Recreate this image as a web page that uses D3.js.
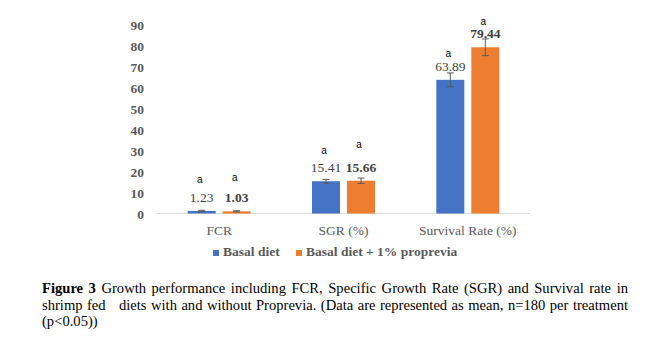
<!DOCTYPE html>
<html>
<head>
<meta charset="utf-8">
<script src="https://cdn.jsdelivr.net/npm/d3@7"></script>
<style>
  body { margin: 0; background: #fff; }
  .chart { position: relative; width: 656px; height: 347px; }
  .caption {
    position: absolute; left: 42px; top: 280px; width: 586px;
    font-family: "Liberation Serif", "Times New Roman", serif;
    font-size: 14.6px; line-height: 16.7px; color: #000;
  }
  .caption .line { white-space: pre; }
  .caption .full { text-align: justify; text-align-last: justify; }
</style>
</head>
<body>
<div class="chart"></div>
<script>
// Growth performance values
var categories = ["FCR", "SGR (%)", "Survival Rate (%)"];
var seriesNames = ["Basal diet", "Basal diet + 1% proprevia"];
var basalDiet = [1.23, 15.41, 63.89];
var proprevia = [1.03, 15.66, 79.44];
var basalErr = [0.3, 0.9, 3.3];
var propreviaErr = [0.3, 1.3, 4.0];
var letters = [["a", "a"], ["a", "a"], ["a", "a"]];
var yTicks = [0, 10, 20, 30, 40, 50, 60, 70, 80, 90];

var colors = ["#4472c4", "#ed7d31"];
// how far each significance letter sits above its value label
var letterLift = [[19, 21], [18, 24], [14, 13]];

var svgWidth = 656;
var svgHeight = 347;

var svg = d3.select(".chart")
  .append("svg")
  .attr("width", svgWidth)
  .attr("height", svgHeight)
  .style("position", "absolute")
  .style("left", 0)
  .style("top", 0);

var data = categories.map(function(c, i) {
  return [
    { cat: c, s: 0, value: basalDiet[i], err: basalErr[i], letter: letters[i][0], lift: letterLift[i][0] },
    { cat: c, s: 1, value: proprevia[i], err: propreviaErr[i], letter: letters[i][1], lift: letterLift[i][1] }
  ];
});

var x0 = d3.scaleBand().domain(categories).range([157, 530]);
var x1 = d3.scaleBand().domain([0, 1]).range([0, 63]).paddingInner(0.2);
var groupOffset = (x0.bandwidth() - 63) / 2;
var y = d3.scaleLinear().domain([0, 90]).range([213.5, 25.2]);

// y axis labels only, no line
var leftAxis = d3.axisLeft(y).tickValues(yTicks).tickSize(0).tickPadding(0);
var yAxis = svg.append("g")
  .attr("transform", "translate(144,0)")
  .call(leftAxis);
yAxis.select(".domain").remove();
yAxis.selectAll("text")
  .attr("font-family", "Liberation Serif, Times New Roman, serif")
  .attr("font-weight", "bold")
  .attr("font-size", "13.5px")
  .attr("fill", "#595959")
  .attr("dy", "0.35em");

// baseline
svg.append("line")
  .attr("x1", 157).attr("x2", 530)
  .attr("y1", y(0)).attr("y2", y(0))
  .attr("stroke", "#d9d9d9")
  .attr("stroke-width", 1);

var groups = svg.selectAll(".group")
  .data(data)
  .enter()
  .append("g")
  .attr("class", "group")
  .attr("transform", function(d, i) {
    return "translate(" + (x0(categories[i]) + groupOffset) + ",0)";
  });

var bars = groups.selectAll(".bar")
  .data(function(d) { return d; })
  .enter()
  .append("g")
  .attr("class", "bar");

bars.append("rect")
  .attr("x", function(d) { return x1(d.s); })
  .attr("width", x1.bandwidth())
  .attr("y", function(d) { return y(d.value); })
  .attr("height", function(d) { return y(0) - y(d.value); })
  .attr("fill", function(d) { return colors[d.s]; });

// error bars
var errColor = "#595959";
bars.append("line")
  .attr("x1", function(d) { return x1(d.s) + x1.bandwidth() / 2; })
  .attr("x2", function(d) { return x1(d.s) + x1.bandwidth() / 2; })
  .attr("y1", function(d) { return y(d.value + d.err); })
  .attr("y2", function(d) { return y(d.value - d.err); })
  .attr("stroke", errColor);
bars.append("line")
  .attr("x1", function(d) { return x1(d.s) + x1.bandwidth() / 2 - 3.5; })
  .attr("x2", function(d) { return x1(d.s) + x1.bandwidth() / 2 + 3.5; })
  .attr("y1", function(d) { return y(d.value + d.err); })
  .attr("y2", function(d) { return y(d.value + d.err); })
  .attr("stroke", errColor);
bars.append("line")
  .attr("x1", function(d) { return x1(d.s) + x1.bandwidth() / 2 - 3.5; })
  .attr("x2", function(d) { return x1(d.s) + x1.bandwidth() / 2 + 3.5; })
  .attr("y1", function(d) { return y(d.value - d.err); })
  .attr("y2", function(d) { return y(d.value - d.err); })
  .attr("stroke", errColor);

// value labels
bars.append("text")
  .attr("x", function(d) { return x1(d.s) + x1.bandwidth() / 2; })
  .attr("y", function(d) { return y(d.value) - 9; })
  .attr("text-anchor", "middle")
  .attr("font-family", "Liberation Serif, Times New Roman, serif")
  .attr("font-size", "13.5px")
  .attr("font-weight", function(d) { return d.s === 1 ? "bold" : "normal"; })
  .attr("fill", "#404040")
  .text(function(d) { return d.value.toFixed(2); });

// significance letters
bars.append("text")
  .attr("x", function(d) { return x1(d.s) + x1.bandwidth() / 2 - 2; })
  .attr("y", function(d) { return y(d.value) - 9 - d.lift; })
  .attr("text-anchor", "middle")
  .attr("font-family", "Liberation Sans, Arial, sans-serif")
  .attr("font-size", "10px")
  .attr("fill", "#000")
  .text(function(d) { return d.letter; });

// category labels
svg.selectAll(".catLabel")
  .data(categories)
  .enter()
  .append("text")
  .attr("class", "catLabel")
  .attr("x", function(d) { return x0(d) + x0.bandwidth() / 2; })
  .attr("y", 235)
  .attr("text-anchor", "middle")
  .attr("font-family", "Liberation Serif, Times New Roman, serif")
  .attr("font-size", "13.5px")
  .attr("fill", "#595959")
  .text(function(d) { return d; });

// legend
var legendX = [213, 296];
var legend = svg.selectAll(".legend")
  .data(seriesNames)
  .enter()
  .append("g")
  .attr("class", "legend")
  .attr("transform", function(d, i) { return "translate(" + legendX[i] + ",256)"; });
legend.append("rect")
  .attr("x", 0).attr("y", -6)
  .attr("width", 6).attr("height", 6)
  .attr("fill", function(d, i) { return colors[i]; });
legend.append("text")
  .attr("x", 10)
  .attr("y", 0)
  .attr("font-family", "Liberation Serif, Times New Roman, serif")
  .attr("font-weight", "bold")
  .attr("font-size", "13.5px")
  .attr("fill", "#595959")
  .text(function(d) { return d; });

// figure caption, three justified lines
var caption = d3.select(".chart").append("div").attr("class", "caption");
var line1 = caption.append("div").attr("class", "line full");
line1.append("b").text("Figure 3");
line1.append("span").text(" Growth performance including FCR, Specific Growth Rate (SGR) and Survival rate in");
caption.append("div").attr("class", "line full")
  .text("shrimp fed   diets with and without Proprevia. (Data are represented as mean, n=180 per treatment");
caption.append("div").attr("class", "line")
  .text("(p<0.05))");
</script>
</body>
</html>
